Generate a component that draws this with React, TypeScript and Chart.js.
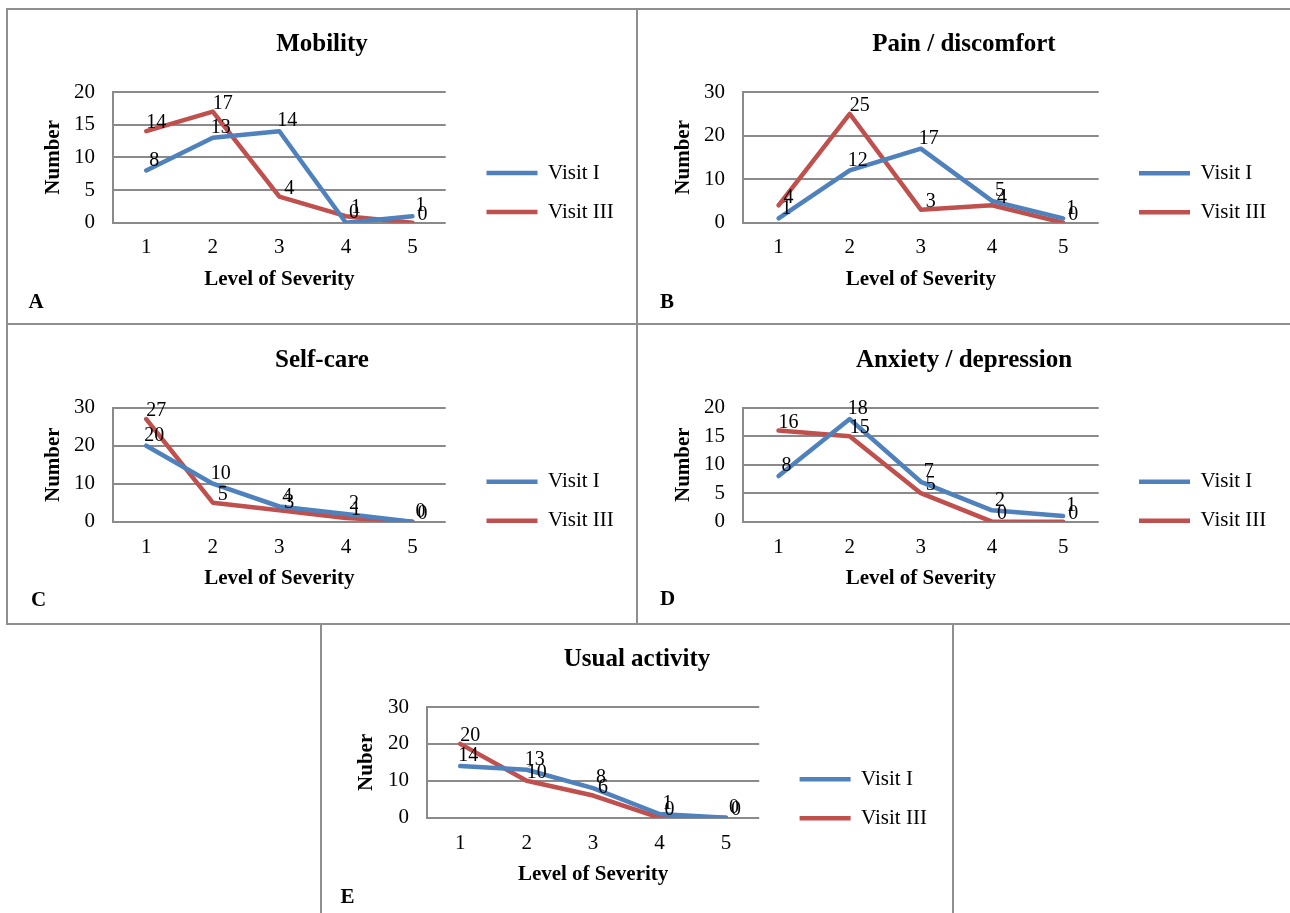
import React, { useEffect, useRef } from 'react';
import { Chart, registerables } from 'chart.js';

Chart.register(...registerables);

// ---------- data ----------
const severityLevels = ['1', '2', '3', '4', '5'];
const seriesNames = ['Visit I', 'Visit III'];

const mobilityVisit1 = [8, 13, 14, 0, 1];
const mobilityVisit3 = [14, 17, 4, 1, 0];
const painVisit1 = [1, 12, 17, 5, 1];
const painVisit3 = [4, 25, 3, 4, 0];
const selfCareVisit1 = [20, 10, 4, 2, 0];
const selfCareVisit3 = [27, 5, 3, 1, 0];
const anxietyVisit1 = [8, 18, 7, 2, 1];
const anxietyVisit3 = [16, 15, 5, 0, 0];
const usualVisit1 = [14, 13, 8, 1, 0];
const usualVisit3 = [20, 10, 6, 0, 0];

const panelTitles = ['Mobility', 'Pain / discomfort', 'Self-care', 'Anxiety / depression', 'Usual activity'];
const panelLetters = ['A', 'B', 'C', 'D', 'E'];
const yAxisTitles = ['Number', 'Number', 'Number', 'Number', 'Nuber'];
const xAxisTitle = 'Level of Severity';
const yMaxima = [20, 30, 30, 20, 30];
const yStepSizes = [5, 10, 10, 5, 10];
const visit1Series = [mobilityVisit1, painVisit1, selfCareVisit1, anxietyVisit1, usualVisit1];
const visit3Series = [mobilityVisit3, painVisit3, selfCareVisit3, anxietyVisit3, usualVisit3];

// ---------- styles / layout ----------
const FAMILY = '"Liberation Serif", "Times New Roman", serif';
const BLUE = '#4F81BD';
const RED = '#C0504D';
const GRID = '#8a8a8a';
const BORDER = '#8f8f8f';
const LINE_W = 4.5;
const LABEL_SHIFT: [number, number][] = [[8, -10], [10, -8]];

type Layout = {
  canvas: [number, number, number, number];
  plot: [number, number, number, number];
  titleY: number;
  yTitleX: number;
  xTickY: number;
  xTitleY: number;
  legendX: number;
  legendY: number;
  letter: [number, number];
};

const PANEL_LAYOUT: Layout[] = [
  { canvas: [8, 10, 628, 313], plot: [113, 92, 445.7, 222.7], titleY: 45, yTitleX: 53.5, xTickY: 247, xTitleY: 280, legendX: 486.5, legendY: 173, letter: [28.6, 302] },
  { canvas: [638, 10, 652, 313], plot: [743, 92, 1098.7, 222.7], titleY: 44.7, yTitleX: 684, xTickY: 247, xTitleY: 280, legendX: 1139, legendY: 173.3, letter: [660, 302] },
  { canvas: [8, 325, 628, 298], plot: [113, 407.7, 445.7, 521.7], titleY: 361, yTitleX: 53.5, xTickY: 547.7, xTitleY: 579, legendX: 486.5, legendY: 481.7, letter: [31, 599.3] },
  { canvas: [638, 325, 652, 298], plot: [743, 407.7, 1098.7, 521.7], titleY: 361, yTitleX: 684, xTickY: 547.7, xTitleY: 579, legendX: 1139, legendY: 481.7, letter: [660, 599] },
  { canvas: [322, 625, 630, 288], plot: [427, 707, 759.2, 817.7], titleY: 660, yTitleX: 367, xTickY: 843.3, xTitleY: 875, legendX: 799.6, legendY: 779.3, letter: [340.4, 896.7] },
];

const valueLabelPlugin = {
  id: 'valueLabels',
  afterDatasetsDraw(chart: any) {
    const ctx = chart.ctx;
    ctx.save();
    ctx.font = `20px ${FAMILY}`;
    ctx.fillStyle = '#000';
    ctx.textAlign = 'center';
    ctx.textBaseline = 'middle';
    chart.data.datasets.forEach((ds: any, di: number) => {
      const meta = chart.getDatasetMeta(di);
      const [dx, dy] = LABEL_SHIFT[di] || [8, -10];
      meta.data.forEach((pt: any, i: number) => {
        ctx.fillText(String(ds.data[i]), pt.x + dx, pt.y + dy);
      });
    });
    ctx.restore();
  },
};

function measureText(text: string, font: string) {
  const c = document.createElement('canvas');
  const ctx = c.getContext('2d');
  if (!ctx) return text.length * 10;
  ctx.font = font;
  return ctx.measureText(text).width;
}

const hiddenAxis = (width: number, weight: number) => ({
  type: 'linear',
  position: 'right',
  display: true,
  weight,
  grid: { display: false, drawTicks: false },
  border: { display: false },
  ticks: { display: false },
  title: { display: false },
  afterFit: (s: any) => { s.width = width; },
});

function Panel({ index }: { index: number }) {
  const ref = useRef<HTMLCanvasElement>(null);
  const lay = PANEL_LAYOUT[index];
  const [cx, cy, W, H] = lay.canvas;

  useEffect(() => {
    const canvas = ref.current;
    if (!canvas) return;
    const [pl, pt, pr, pb] = lay.plot;
    const plotL = pl - cx;
    const plotT = pt - cy;
    const plotR = pr - cx;
    const plotB = pb - cy;
    const TITLE_LH = 25 * 1.2;
    const AX_LH = 21 * 1.2;
    const LEG_PAD = 18;
    const LEG_FONT = 21;
    const LEG_BOX = 51;
    const legendFont = `${LEG_FONT}px ${FAMILY}`;
    const maxText = Math.max(...seriesNames.map((s) => measureText(s, legendFont)));
    const legendW = LEG_PAD + LEG_BOX + LEG_FONT / 2 + maxText + 10;
    const legendLeft = lay.legendX - cx - LEG_PAD;
    const spacerW = legendLeft - plotR;
    const outerW = Math.max(0, W - legendLeft - legendW);
    const legendTitleH = lay.legendY - cy - LEG_PAD - LEG_FONT / 2;
    const titleC = lay.titleY - cy;

    const mk = (label: string, data: number[], color: string) => ({
      label,
      data,
      borderColor: color,
      backgroundColor: color,
      pointBorderColor: color,
      pointBackgroundColor: color,
      pointBorderWidth: LINE_W,
      borderWidth: LINE_W,
      pointRadius: 0,
      pointHoverRadius: 0,
      tension: 0,
      fill: false,
      borderJoinStyle: 'round',
      borderCapStyle: 'round',
      xAxisID: 'x',
      yAxisID: 'y',
    });

    const chart = new Chart(canvas, {
      type: 'line',
      data: {
        labels: severityLevels,
        datasets: [
          mk(seriesNames[0], visit1Series[index], BLUE),
          mk(seriesNames[1], visit3Series[index], RED),
        ] as any,
      },
      options: {
        responsive: false,
        animation: false,
        devicePixelRatio: 1,
        events: [],
        layout: { padding: 0 },
        plugins: {
          title: {
            display: true,
            text: panelTitles[index],
            color: '#000',
            font: { family: FAMILY, size: 25, weight: 'bold' },
            padding: { top: titleC - TITLE_LH / 2, bottom: plotT - titleC - TITLE_LH / 2 },
          },
          legend: {
            display: true,
            position: 'right',
            align: 'start',
            fullSize: true,
            maxWidth: 2000,
            title: {
              display: true,
              text: '',
              font: { size: 1 },
              padding: { top: legendTitleH - 1.2, bottom: 0 },
            },
            labels: {
              usePointStyle: true,
              pointStyle: 'line',
              pointStyleWidth: LEG_BOX,
              boxWidth: LEG_BOX,
              padding: LEG_PAD,
              color: '#000',
              font: { family: FAMILY, size: LEG_FONT },
            },
          },
          tooltip: { enabled: false },
        },
        scales: {
          x: {
            type: 'category',
            offset: true,
            grid: { display: false, drawTicks: false },
            border: { display: false },
            ticks: {
              color: '#000',
              font: { family: FAMILY, size: 21 },
              padding: lay.xTickY - pb - AX_LH / 2,
              maxRotation: 0,
              autoSkip: false,
            },
            title: {
              display: true,
              text: xAxisTitle,
              color: '#000',
              font: { family: FAMILY, size: 21, weight: 'bold' },
              padding: { top: 0, bottom: H - (lay.xTitleY - cy) - AX_LH / 2 },
            },
            afterFit: (s: any) => { s.height = H - plotB; },
          },
          y: {
            type: 'linear',
            position: 'left',
            min: 0,
            max: yMaxima[index],
            ticks: {
              stepSize: yStepSizes[index],
              padding: 18,
              color: '#000',
              font: { family: FAMILY, size: 21 },
            },
            grid: { color: GRID, lineWidth: 2, drawTicks: false },
            border: { display: true, color: GRID, width: 2 },
            title: {
              display: true,
              text: yAxisTitles[index],
              color: '#000',
              font: { family: FAMILY, size: 21, weight: 'bold' },
              padding: { top: lay.yTitleX - cx - AX_LH / 2, bottom: 0 },
            },
            afterFit: (s: any) => { s.width = plotL; },
          },
          gapBeforeLegend: hiddenAxis(spacerW, 0),
          gapAfterLegend: hiddenAxis(outerW, 2000),
        },
      } as any,
      plugins: [valueLabelPlugin],
    });
    return () => chart.destroy();
  }, [index]);

  return (
    <>
      <canvas
        ref={ref}
        width={W}
        height={H}
        style={{ position: 'absolute', left: cx, top: cy, width: W, height: H }}
      />
      <div
        style={{
          position: 'absolute',
          left: lay.letter[0],
          top: lay.letter[1] - 10.6,
          fontFamily: FAMILY,
          fontWeight: 'bold',
          fontSize: 21,
          lineHeight: '21px',
          color: '#000',
          whiteSpace: 'nowrap',
        }}
      >
        {panelLetters[index]}
      </div>
    </>
  );
}

const hLine = (x1: number, x2: number, y: number) => (
  <div style={{ position: 'absolute', left: x1, top: y - 1, width: x2 - x1, height: 2, background: BORDER }} />
);
const vLine = (x: number, y1: number, y2: number) => (
  <div style={{ position: 'absolute', left: x - 1, top: y1, width: 2, height: y2 - y1, background: BORDER }} />
);

export default function App() {
  return (
    <div style={{ position: 'absolute', left: 0, top: 0, width: 1290, height: 913, overflow: 'hidden', background: '#fff' }}>
      {hLine(6, 1290, 9)}
      {hLine(6, 1290, 324)}
      {hLine(6, 1290, 624)}
      {vLine(7, 8, 625)}
      {vLine(637, 8, 625)}
      {vLine(321, 623, 913)}
      {vLine(953, 623, 913)}
      {[0, 1, 2, 3, 4].map((i) => (
        <Panel key={i} index={i} />
      ))}
    </div>
  );
}
